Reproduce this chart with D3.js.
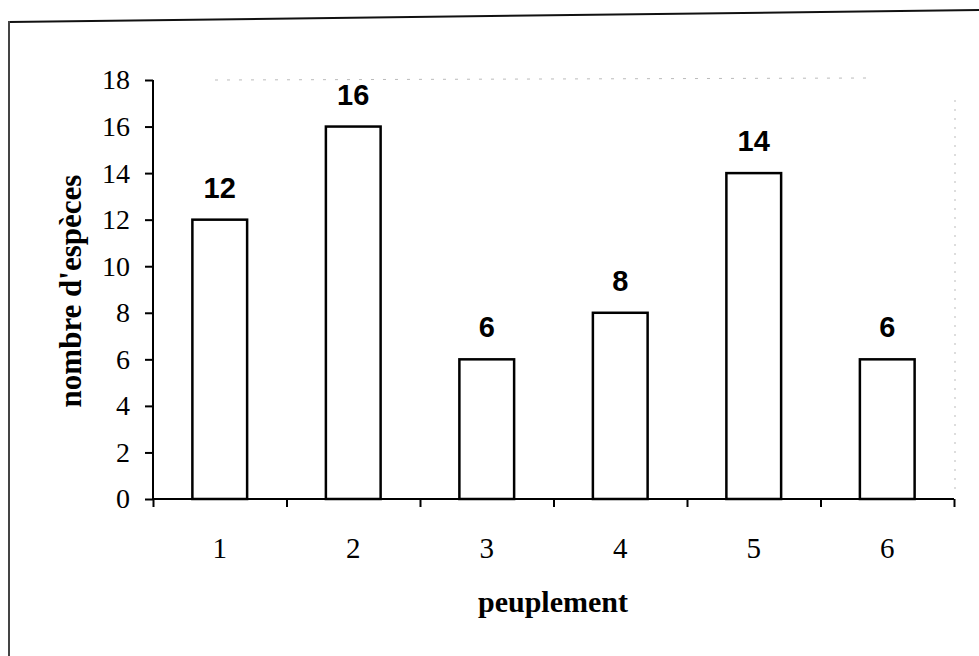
<!DOCTYPE html>
<html>
<head>
<meta charset="utf-8">
<script src="https://cdn.jsdelivr.net/npm/d3@7"></script>
<style>
  body { margin: 0; background: #fff; }
</style>
</head>
<body>
<script>
// data
var categories = ["1", "2", "3", "4", "5", "6"];
var especes = [12, 16, 6, 8, 14, 6];
var yTicks = [0, 2, 4, 6, 8, 10, 12, 14, 16, 18];

var W = 979, H = 656;

var plot_l = 153, plot_r = 954,
    plot_t = 80, plot_b = 499;

var serif = '"Liberation Serif", "Times New Roman", serif',
    sans = '"Liberation Sans", Arial, sans-serif';

var svg = d3.select("body")
    .append("svg")
    .attr("width", W)
    .attr("height", H);

// ==== frame of the scanned page ====
svg.append("line")
    .attr("x1", 9).attr("y1", 22)
    .attr("x2", W).attr("y2", 10)
    .attr("stroke", "#111")
    .attr("stroke-width", 2);

svg.append("line")
    .attr("x1", 9).attr("y1", 21)
    .attr("x2", 9).attr("y2", H)
    .attr("stroke", "#444")
    .attr("stroke-width", 2);

// faint remains of the plot area border
svg.append("line")
    .attr("x1", 215).attr("y1", plot_t)
    .attr("x2", 870).attr("y2", plot_t - 2)
    .attr("stroke", "#bbb")
    .attr("stroke-width", 1)
    .attr("stroke-dasharray", "3,9");

svg.append("line")
    .attr("x1", plot_r + 1).attr("y1", 100)
    .attr("x2", plot_r + 1).attr("y2", 490)
    .attr("stroke", "#bbb")
    .attr("stroke-width", 1)
    .attr("stroke-dasharray", "2,7");

// ==== scales ====
var x = d3.scaleBand()
    .domain(categories)
    .range([plot_l, plot_r])
    .paddingInner(0.59)
    .paddingOuter(0.295);

var xEdge = d3.scaleLinear()
    .domain([0, categories.length])
    .range([plot_l, plot_r]);

var y = d3.scaleLinear()
    .domain([0, 18])
    .range([plot_b, plot_t]);

// ==== bars ====
svg.append("g")
    .selectAll("rect")
    .data(especes)
    .join("rect")
    .attr("x", function(d, i) { return x(categories[i]); })
    .attr("y", function(d) { return y(d); })
    .attr("width", x.bandwidth())
    .attr("height", function(d) { return y(0) - y(d); })
    .attr("fill", "white")
    .attr("stroke", "black")
    .attr("stroke-width", 2.5);

svg.append("g")
    .selectAll("text")
    .data(especes)
    .join("text")
    .text(function(d) { return d; })
    .attr("x", function(d, i) { return x(categories[i]) + x.bandwidth() / 2; })
    .attr("y", function(d) { return y(d) - 22; })
    .attr("text-anchor", "middle")
    .attr("font-family", sans)
    .attr("font-size", "29px")
    .attr("font-weight", 700)
    .attr("fill", "black");

// ==== y axis ====
var yAxis = svg.append("g")
    .attr("transform", "translate(" + plot_l + ",0)")
    .call(d3.axisLeft(y)
        .tickValues(yTicks)
        .tickSize(8)
        .tickPadding(15));

yAxis.select(".domain")
    .attr("stroke-width", 2)
    .attr("d", "M0," + plot_t + "V" + (plot_b + 1));
yAxis.selectAll(".tick line").attr("stroke-width", 2);
yAxis.selectAll("text")
    .attr("font-family", serif)
    .attr("font-size", "28px")
    .attr("fill", "black");

// ==== x axis ====
var xAxis = svg.append("g")
    .attr("transform", "translate(0," + plot_b + ")")
    .call(d3.axisBottom(xEdge)
        .ticks(categories.length)
        .tickFormat("")
        .tickSize(8));

xAxis.select(".domain")
    .attr("stroke-width", 2)
    .attr("d", "M" + plot_l + ",0H" + plot_r);
xAxis.selectAll(".tick line").attr("stroke-width", 2);

var xLabels = svg.append("g")
    .attr("transform", "translate(0," + plot_b + ")")
    .call(d3.axisBottom(x)
        .tickSize(0)
        .tickPadding(38));

xLabels.select(".domain").remove();
xLabels.selectAll("text")
    .attr("font-family", serif)
    .attr("font-size", "29px")
    .attr("fill", "black");

// ==== axis titles ====
svg.append("text")
    .text("peuplement")
    .attr("x", 553)
    .attr("y", 612)
    .attr("text-anchor", "middle")
    .attr("font-family", serif)
    .attr("font-size", "30px")
    .attr("font-weight", 700)
    .attr("fill", "black");

svg.append("text")
    .text("nombre d'espèces")
    .attr("transform", "translate(81,291) rotate(-90)")
    .attr("text-anchor", "middle")
    .attr("font-family", serif)
    .attr("font-size", "31px")
    .attr("font-weight", 700)
    .attr("fill", "black");
</script>
</body>
</html>
